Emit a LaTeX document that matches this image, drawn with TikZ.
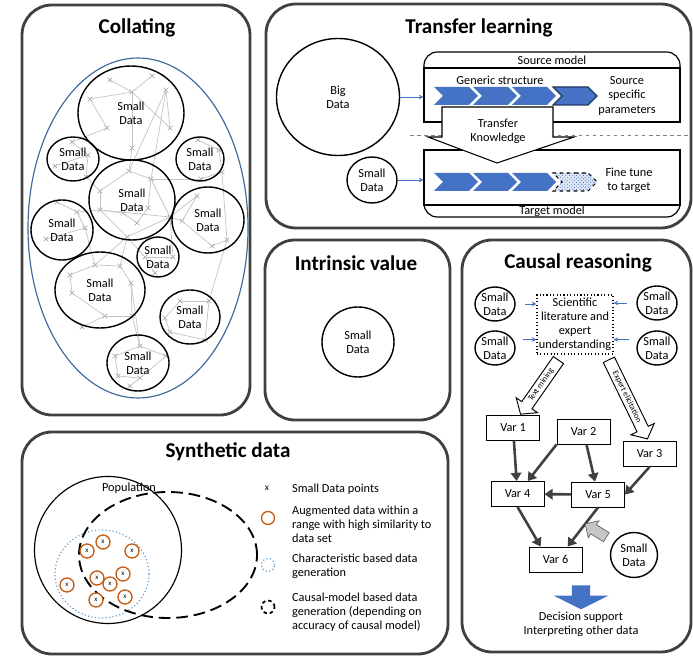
\documentclass[tikz,border=0pt]{standalone}
\usepackage{fontspec}
\setmainfont{Carlito}
\usepackage{tikz}
\usetikzlibrary{arrows.meta,positioning,shapes.geometric,shapes.misc,shapes.arrows,shapes.symbols,calc,patterns}
\definecolor{panelgray}{RGB}{64,64,64}
\definecolor{chevblue}{RGB}{68,114,196}
\definecolor{chevnavy}{RGB}{31,56,100}
\definecolor{ellblue}{RGB}{65,105,160}
\definecolor{augorange}{RGB}{197,90,17}
\definecolor{charblue}{RGB}{91,155,213}
\definecolor{netgray}{RGB}{195,195,195}

\begin{document}
\begin{tikzpicture}[
  x=0.03cm, y=-0.03cm,
  font=\fontsize{10.5}{12}\selectfont,
  sz/.style 2 args={minimum width=#1*0.03cm, minimum height=#2*0.03cm},
  panel/.style={draw=panelgray, line width=2.4pt, rounded corners=0.9cm},
  ptitle/.style={font=\fontsize{18}{20}\selectfont\bfseries},
  sdat/.style={draw, ellipse, line width=1.2pt, inner sep=0pt, align=center},
  xmark/.style={cross out, draw=gray!80, line width=0.5pt, minimum size=3.5pt, inner sep=0pt},
  net/.style={draw=netgray, line width=0.6pt},
  chev/.style={signal, signal to=east, signal from=west, fill=chevblue, inner sep=0pt, sz={44}{18}},
  bluearr/.style={-{Stealth[length=4pt,width=4pt]}, draw=chevblue, line width=0.7pt},
  var/.style={draw, line width=0.8pt, sz={53}{25}, inner sep=0pt},
  varr/.style={-{Triangle[length=7pt,width=9pt]}, draw=panelgray, line width=2.2pt},
  blockarr/.style={draw, fill=white, line width=0.8pt, single arrow, single arrow head indent=0pt,
                   single arrow head extend=0.2cm, single arrow tip angle=100, inner sep=1.8pt,
                   font=\fontsize{7}{7.5}\selectfont},
  aug/.style={circle, draw=augorange, fill=white, line width=1.1pt, sz={14}{14}, inner sep=0pt,
              font=\fontsize{6}{6}\selectfont},
]
\useasboundingbox (0,0) rectangle (693,657);

% Panels
\draw[panel] (22,5) rectangle (250,415);
\draw[panel] (266,4) rectangle (691,228);
\draw[panel] (265,240) rectangle (450,420);
\draw[panel] (462,240) rectangle (691,652);
\draw[panel] (22,432) rectangle (448,654);

\node[ptitle] (tcoll) at (137,28) {Collating};
\node[ptitle] (ttran) at (479,28) {Transfer learning};
\node[ptitle] (tintr) at (356,263) {Intrinsic value};
\node[ptitle] (tcaus) at (578,263) {Causal reasoning};
\node[ptitle] (tsynt) at (228,452) {Synthetic data};

% Collating
\node[draw=ellblue, line width=1pt, ellipse, sz={220}{340}] (pool) at (138,228) {};
\foreach \n/\px/\py in {t1/110/80, t2/152/76, t3/132/92, t4/166/90, t5/90/99, t6/107/128, t7/170/128, t8/132/148,
    l1/72/142, l2/88/155, l3/55/166, l4/86/177, r1/198/140, r2/219/150, r3/222/172, r4/201/179,
    m1/129/171, m2/151/179, m3/100/191, m4/100/210, m5/123/213, m6/137/223, m7/148/208, m8/170/217, m9/127/237,
    w1/57/202, w2/77/212, w3/85/228, w4/46/239, e1/197/196, e2/182/221, e3/212/246, e4/227/240,
    s1/145/257, s2/173/257, s3/155/273, b1/95/265, b2/120/266, b3/70/275, b4/131/283, b5/72/293,
    b6/105/316, b7/132/316, b8/82/327, q1/180/301, q2/209/301, q3/165/318, q4/170/332, q5/205/340,
    d1/140/346, d2/115/356, d3/166/356, d4/118/376, d5/140/378, d6/130/386}
  \node[xmark] (\n) at (\px,\py) {};
\foreach \a/\b in {t1/t3, t3/t2, t3/t5, t5/t6, t6/l1, t3/t7, t4/t7, t4/m1, t4/m2, t3/t8, t8/m1,
    l1/l2, l2/l4, l3/l2, l4/m3, r1/r2, r2/r3, r3/r4, r4/m2, m1/m2, m1/m3, m3/m4, m4/m5, m5/m6,
    m6/m7, m7/m2, m2/m8, m4/m8, m8/e1, m8/e2, m9/m8, m9/m4, w1/w2, w2/w3, w3/w4, w2/m4,
    e1/e2, e2/e3, e3/e4, e4/r3, e4/q2, s1/s2, s1/s3, s2/m8, s1/m9, b1/b2, b1/b3, b3/b5, b5/b6,
    b6/b7, b6/b8, b7/b4, b4/b2, m9/b1, w3/b1, m9/b2, q1/q2, q1/q3, q3/q4, q4/q5, q2/q5,
    d1/d2, d1/d3, d2/d4, d4/d5, d5/d6, d3/d5, b7/d1, b4/d1}
  \draw[net] (\a.center) -- (\b.center);
\node[sdat, sz={106}{94}] (ctop) at (131,113) {Small\\Data};
\node[sdat, sz={52}{44}] (ctl) at (73,159) {Small\\Data};
\node[sdat, sz={48}{44}] (ctr) at (200,159) {Small\\Data};
\node[sdat, sz={86}{80}] (cmid) at (132,200) {Small\\Data};
\node[sdat, sz={62}{60}] (clft) at (62,230) {Small\\Data};
\node[sdat, sz={72}{66}] (crgt) at (208,220) {Small\\Data};
\node[sdat, sz={42}{40}] (csml) at (158,257) {Small\\Data};
\node[sdat, sz={90}{76}] (cbl) at (100,290) {Small\\Data};
\node[sdat, sz={60}{54}] (cbr) at (190,317) {Small\\Data};
\node[sdat, sz={62}{56}] (cbot) at (138,363) {Small\\Data};

% Transfer learning
\draw[dashed, draw=gray, line width=0.7pt] (410,135) -- (690,135);
\node[sdat, sz={123}{117}] (bigdata) at (338,97) {Big\\Data};
\node[sdat, sz={50}{46}] (smalltr) at (372,180) {Small\\Data};
\node[draw, line width=1pt, rounded corners=0.4cm, sz={256}{70}] (srcout) at (552,87) {};
\node[draw, line width=1pt, fill=white, sz={256}{54}] (srcbox) at (552,95) {};
\node[draw, line width=1pt, rounded corners=0.4cm, sz={256}{67}] (tgtout) at (552,183.5) {};
\node[draw, line width=1pt, fill=white, sz={256}{55}] (tgtbox) at (552,177.5) {};
\node (srclbl) at (552,60) {Source model};
\node (tgtlbl) at (552,211) {Target model};
\node (generic) at (500,80) {Generic structure};
\foreach \i/\cx in {1/456, 2/495, 3/534}{
  \node[chev] (chs\i) at (\cx,96) {};
  \node[chev] (cht\i) at (\cx,182) {};
}
\node[chev, draw=chevnavy, line width=1pt] (chs4) at (575,96) {};
\node[chev, draw, dashed, line width=0.9pt, preaction={fill=chevblue!15}, pattern=crosshatch dots,
      pattern color=chevblue] (cht4) at (575,182) {};
\node[align=center] (srcspec) at (627,96) {Source\\specific\\parameters};
\node[align=center] (finetune) at (629,180) {Fine tune\\to target};
\draw[bluearr] (bigdata) -- (bigdata -| srcbox.west);
\draw[bluearr] (smalltr) -- (smalltr -| tgtbox.west);
\draw[fill=white, line width=0.9pt] (442,107) -- (553,107) -- (553,137) -- (574,137) -- (497,163)
  -- (428,137) -- (442,137) -- cycle;
\node[align=center] (transfer) at (498,131) {Transfer\\Knowledge};

% Intrinsic value
\node[sdat, sz={72}{70}] (intr) at (358,342) {Small\\Data};

% Causal reasoning
\node[draw, dotted, line width=0.9pt, align=center, sz={76}{59}, inner sep=1pt] (lit) at (575,324.5)
  {Scientific\\literature and\\expert\\understanding};
\node[sdat, sz={40}{34}] (sdl1) at (495,304) {Small\\Data};
\node[sdat, sz={40}{34}] (sdr1) at (657,303) {Small\\Data};
\node[sdat, sz={40}{34}] (sdl2) at (495,348) {Small\\Data};
\node[sdat, sz={40}{34}] (sdr2) at (657,348) {Small\\Data};
\draw[bluearr, shorten <=0.28cm] (sdl1) -- (sdl1 -| lit.west);
\draw[bluearr, shorten <=0.28cm] (sdl2.25) -- (sdl2.25 -| lit.west);
\draw[bluearr, shorten <=0.28cm] (sdr1) -- (sdr1 -| lit.east);
\draw[bluearr, shorten <=0.28cm] (sdr2.155) -- (sdr2.155 -| lit.east);
\node[blockarr, rotate=55, shape border rotate=180, sz={26}{66}] (txtmin) at (541,385) {Text mining};
\node[blockarr, rotate=-64, sz={26}{88}] (expel) at (627,397) {Expert elicitation};
\node[var] (v1) at (513,427.5) {Var 1};
\node[var] (v2) at (583.5,431.5) {Var 2};
\node[var] (v3) at (649.5,454) {Var 3};
\node[var] (v4) at (517.5,494) {Var 4};
\node[var] (v5) at (598,494.5) {Var 5};
\node[var] (v6) at (555.5,559.5) {Var 6};
\draw[varr] (v1) -- (v4);
\draw[varr] (v2.south west) -- (v4);
\draw[varr] (v2) -- (v5);
\draw[varr] (v3.south) -- (v5.east);
\draw[varr] (v5) -- (v4);
\draw[varr] (v4.south) -- ($(v6.north)!0.55!(v6.north west)$);
\draw[varr] (v5.south) -- ($(v6.north)!0.45!(v6.north east)$);
\node[sdat, sz={47}{45}] (sdc) at (634,555) {Small\\Data};
\node[single arrow, draw=gray!80!black, line width=0.6pt, fill=gray!45, rotate=148,
      single arrow head extend=0.14cm, single arrow head indent=0pt, inner sep=0.15cm, sz={20}{25}] (hint) at (598,532) {};
\node[single arrow, fill=chevblue, rotate=-90, single arrow tip angle=127, inner sep=0.27cm,
      single arrow head extend=0.55cm, sz={55}{24}] (decarr) at (581,595) {};
\node[align=center] (decision) at (581,624) {Decision support\\Interpreting other data};

% Synthetic data
\node[circle, draw, line width=1pt, sz={147}{147}] (pop) at (108,550) {};
\node (poplbl) at (129,488) {Population};
\node[ellipse, draw=charblue, dotted, line width=1pt, sz={94}{88}] (charc) at (102,574) {};
\node[ellipse, draw, line width=1.6pt, dash pattern=on 10pt off 5pt, sz={178}{126}] (causal) at (168,555) {};
\foreach \i/\px/\py in {1/87/551, 2/103/542, 3/132/551, 4/97/578, 5/123/574, 6/110/584, 7/67/585, 8/96/600, 9/125/597}
  \node[aug] (oc\i) at (\px,\py) {x};
\node[font=\fontsize{8}{8}\selectfont] (lgx) at (267,488) {x};
\node[aug, sz={13}{13}] (lgo) at (268,518) {};
\node[circle, draw=charblue, dotted, line width=1pt, sz={13}{13}, inner sep=0pt] (lgc) at (268,565) {};
\node[circle, draw, line width=1.5pt, dash pattern=on 3pt off 2.5pt, sz={13}{13}, inner sep=0pt] (lgd) at (268,607) {};
\node[anchor=west] (lgxt) at (288,489) {Small Data points};
\node[anchor=west, align=left] (lgot) at (288,524) {Augmented data within a\\range with high similarity to\\data set};
\node[anchor=west, align=left] (lgct) at (288,566.5) {Characteristic based data\\generation};
\node[anchor=west, align=left] (lgdt) at (288,612) {Causal-model based data\\generation (depending on\\accuracy of causal model)};
\end{tikzpicture}
\end{document}
